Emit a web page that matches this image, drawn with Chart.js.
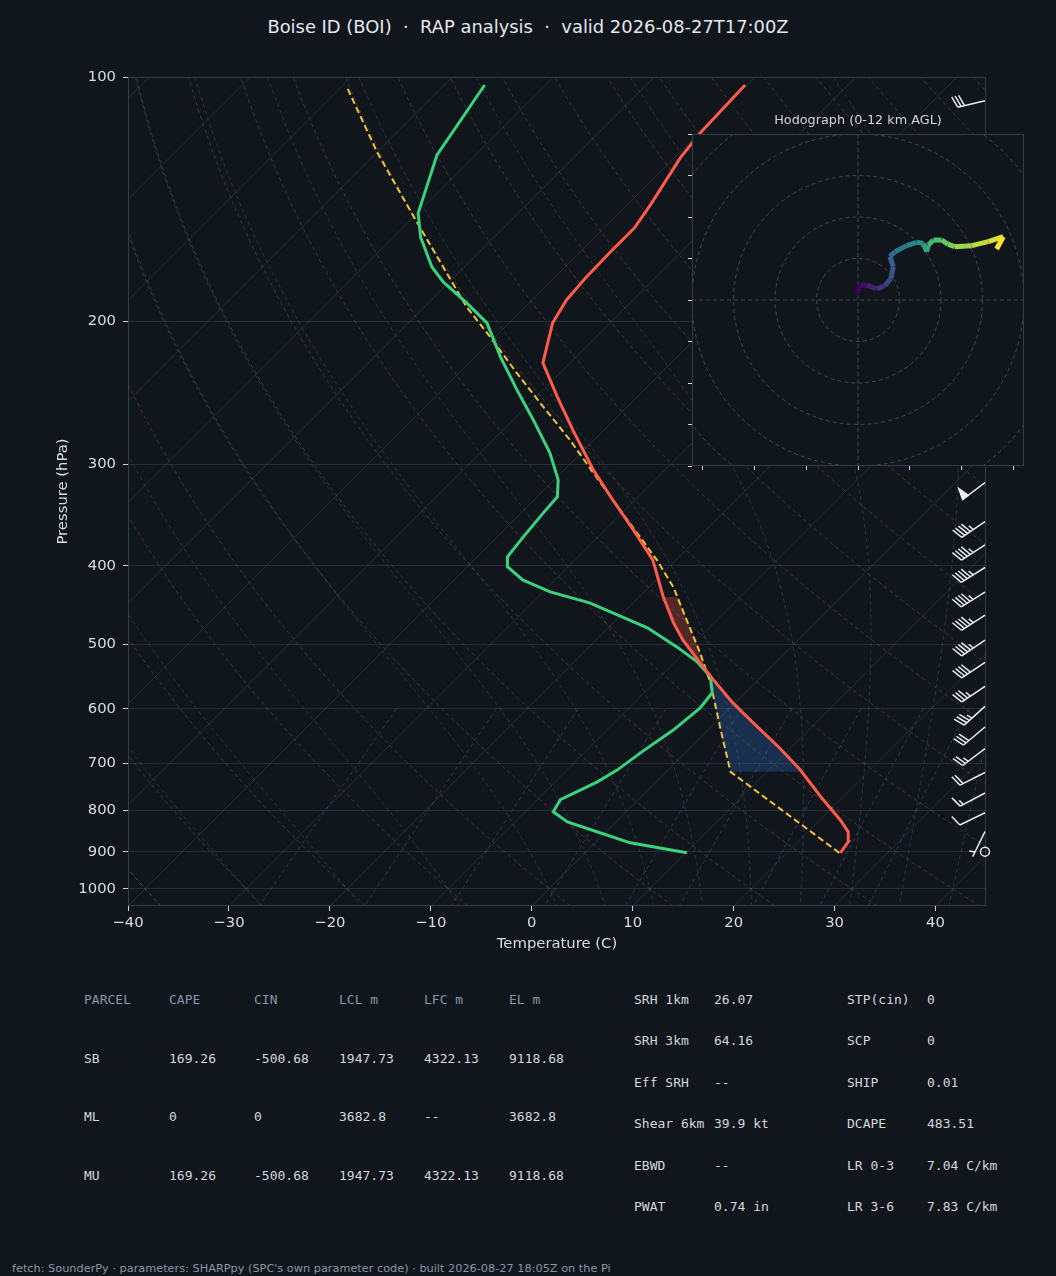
<!DOCTYPE html>
<html>
<head>
<meta charset="utf-8">
<title>Boise ID (BOI) skew-T</title>
<script src="https://cdn.jsdelivr.net/npm/chart.js@4.4.1/dist/chart.umd.min.js"></script>
<style>
  html, body { margin: 0; padding: 0; background: #11151c; }
  body { width: 1056px; height: 1276px; position: relative; overflow: hidden;
         font-family: "DejaVu Sans", sans-serif; }
  #title { position: absolute; left: 0; top: 16px; width: 1056px; text-align: center;
           color: #e4e7ec; font-size: 17.9px; white-space: pre; }
  #main { position: absolute; left: 0; top: 0; }
  #hodo { position: absolute; left: 676px; top: 110px; }
  #hodoTitle { position: absolute; left: 692px; width: 332px; top: 112px; text-align: center;
               color: #d2d6dc; font-size: 12.8px; }
  .cell { position: absolute; font-family: "DejaVu Sans Mono", monospace; font-size: 13px;
          line-height: 16px; white-space: pre; color: #d3d8de; }
  .head { color: #8796aa; }
  #foot { position: absolute; left: 12px; top: 1262px; font-size: 11.3px; color: #8a96a6; white-space: pre; }
</style>
</head>
<body>
<div id="title">Boise ID (BOI)  ·  RAP analysis  ·  valid 2026-08-27T17:00Z</div>
<canvas id="main" width="1056" height="956"></canvas>
<div id="hodoTitle">Hodograph (0-12 km AGL)</div>
<canvas id="hodo" width="360" height="372"></canvas>
<div id="table"></div>
<div id="foot">fetch: SounderPy · parameters: SHARPpy (SPC's own parameter code) · built 2026-08-27 18:05Z on the Pi</div>
<script>
// ---- sounding values (hPa, degC) ----
const TEMP_P = [903, 875.2, 850.7, 822.2, 770.1, 713.6, 670.7, 624.6, 590.2, 552.9, 526.9, 493.6, 470.4, 436.9,
                393.4, 361.3, 331.9, 304.8, 272.1, 247.8, 225, 200.9, 188.2, 176.8, 164.3, 153.5, 143.8, 133.9,
                125.8, 117.2, 102.3];
const TEMP_C = [25.3, 25.0, 24.0, 22.0, 17.8, 13.1, 8.9, 3.8, -0.2, -4.4, -7.4, -11.4, -14.0, -17.6,
                -22.3, -27.2, -32.2, -37.1, -43.1, -47.9, -52.7, -55.7, -56.6, -56.9, -57.0, -57.0, -57.7, -58.6,
                -59.4, -59.9, -60.2];
const DEW_P = [903, 877.7, 853.1, 827.1, 803.9, 776.7, 738.4, 713.6, 680.1, 637.1, 598.5, 573.4, 548.2, 525.3,
               503.5, 477, 444.4, 430.7, 416.4, 401.2, 390, 368.6, 344.3, 329, 313.5, 290.4, 264.5, 242.9,
               221.2, 200.9, 189.8, 178.8, 171.4, 157.4, 147.1, 124.7, 102.3];
const DEW_C = [10.1, 3.5, -0.5, -4.8, -7.2, -7.7, -5.8, -5.0, -4.4, -3.4, -2.95, -3.25, -5.0, -7.8,
               -11.3, -16.1, -24.3, -29.3, -33.2, -36.0, -37.0, -37.4, -37.8, -38.0, -39.6, -43.1, -48.0, -52.6,
               -57.5, -62.2, -66.2, -70.6, -73.2, -77.3, -79.9, -83.8, -86.0];
const PARCEL_P = [903, 717.7, 631.7, 557.6, 512.1, 466.4, 424.7, 393.4, 331.9, 307.4, 279.9, 254.9, 231.5,
                  209, 192, 151.3, 124, 103.2];
const PARCEL_C = [25.2, 6.4, 0.9, -4.4, -8.4, -13.0, -17.6, -21.9, -32.2, -36.8, -42.4, -48.3, -54.3,
                  -60.5, -65.8, -79.0, -89.9, -99.3];
const CIN_LAYER = [717.7, 557.6];
const CAPE_LAYER = [545, 437];

// wind barbs (hPa, kt, deg from)
const BARB_P   = [900, 850, 806, 762, 719, 672, 632, 596, 563, 526, 494, 460, 431, 402, 377, 353, 316, 107];
const BARB_SPD = [0, 5, 10, 15, 20, 25, 30, 35, 35, 40, 45, 45, 45, 45, 45, 45, 50, 30];
const BARB_DIR = [0, 206, 244, 242, 243, 233, 230, 228, 236, 236, 236, 237, 238, 238, 237, 236, 233, 257];

// hodograph u/v (kt), surface to 12 km
const HODO_U = [-0.6, 1.0, 4.2, 9.0, 13.0, 15.9, 17.0, 15.4, 17.8, 23.5, 28.3, 31.5, 33.1, 33.9, 36.3,
                40.3, 43.5, 46.7, 54.8, 62.8, 70.0, 66.8];
const HODO_V = [3.2, 7.2, 7.2, 5.3, 6.9, 10.5, 16.0, 20.9, 23.3, 26.2, 27.8, 27.3, 23.3, 26.5, 28.9,
                28.9, 26.8, 25.7, 26.2, 28.1, 30.5, 24.6];

// axis ticks and reference line sets
const P_TICKS = [100, 200, 300, 400, 500, 600, 700, 800, 900, 1000];
const ISOTHERMS = [-120, -110, -100, -90, -80, -70, -60, -50, -40, -30, -20, -10, 0, 10, 20, 30, 40];
const DRY_T0 = [-40, -30, -20, -10, 0, 10, 20, 30, 40, 50, 60, 70, 80, 90, 100, 110, 120, 130, 140, 150,
                160, 170, 180, 190, 200];
const MOIST_T0 = [-40, -30, -20, -10, 0, 5, 10, 15, 20, 25, 30, 35, 40, 45];
const MIX_W = [0.0004, 0.001, 0.002, 0.004, 0.007, 0.01, 0.016, 0.024, 0.032];

// table text
const TABLE_HEAD = ['PARCEL', 'CAPE', 'CIN', 'LCL m', 'LFC m', 'EL m'];
const TABLE_ROWS = [
  ['SB', '169.26', '-500.68', '1947.73', '4322.13', '9118.68'],
  ['ML', '0', '0', '3682.8', '--', '3682.8'],
  ['MU', '169.26', '-500.68', '1947.73', '4322.13', '9118.68']
];
const PARAM_A = [['SRH 1km', '26.07'], ['SRH 3km', '64.16'], ['Eff SRH', '--'],
                 ['Shear 6km', '39.9 kt'], ['EBWD', '--'], ['PWAT', '0.74 in']];
const PARAM_B = [['STP(cin)', '0'], ['SCP', '0'], ['SHIP', '0.01'],
                 ['DCAPE', '483.51'], ['LR 0-3', '7.04 C/km'], ['LR 3-6', '7.83 C/km']];

// ---- layout ----
const PLOT = { left: 128, top: 77, right: 986, bottom: 906 };
const PAD_LEFT = 50;
const CANVAS_H = 956;
const P_BOT = 1050, P_TOP = 100, T_MIN = -40, T_MAX = 45;
// 45 degree skew in pixel space
const SKEW = ((PLOT.bottom - PLOT.top) / Math.log10(P_BOT / P_TOP)) / ((PLOT.right - PLOT.left) / (T_MAX - T_MIN));
const skewX = (t, p) => t + SKEW * Math.log10(P_BOT / p);

const BG = '#11151c';
const TXT = '#d9dde3';
const GRID = 'rgba(150,165,185,0.17)';
const FRAME = '#333d4a';

Chart.defaults.font.family = '"DejaVu Sans", sans-serif';

// thermodynamics for the background lines
function satMix(tc, p) {
  const es = 6.112 * Math.exp(17.67 * tc / (tc + 243.5));
  return 0.622 * es / (p - es);
}
function moistGrad(tk, p) {
  const rs = satMix(tk - 273.15, p);
  const Rd = 287.04, Cp = 1005.7, Lv = 2.501e6, eps = 0.622;
  return (1 / p) * (Rd * tk + Lv * rs) / (Cp + Lv * Lv * rs * eps / (Rd * tk * tk));
}
function moistCurve(t0) {
  const pts = [];
  for (const dir of [-1, 1]) {
    let t = t0 + 273.15, p = 1000;
    const seg = [[p, t]];
    const stop = dir < 0 ? P_TOP : P_BOT;
    while ((dir < 0 && p > stop) || (dir > 0 && p < stop)) {
      const dp = 5 * dir;
      const k1 = moistGrad(t, p), k2 = moistGrad(t + k1 * dp, p + dp);
      t += 0.5 * (k1 + k2) * dp; p += dp;
      seg.push([p, t]);
    }
    if (dir < 0) pts.push(...seg.reverse()); else pts.push(...seg.slice(1));
  }
  return pts.filter((d, i) => i % 3 === 0 || i === pts.length - 1)
            .map(([p, t]) => ({ x: skewX(t - 273.15, p), y: p }));
}
const LOG_P = [];
for (let i = 0; i <= 40; i++) LOG_P.push(P_BOT * Math.pow(P_TOP / P_BOT, i / 40));

function refLine(data, color, dash) {
  return { data, showLine: true, pointRadius: 0, borderWidth: 1, borderColor: color,
           borderDash: dash, tension: 0, order: 10 };
}
const refSets = [];
ISOTHERMS.forEach(t => refSets.push(refLine([P_BOT, P_TOP].map(p => ({ x: skewX(t, p), y: p })), GRID, [])));
DRY_T0.forEach(t0 => refSets.push(refLine(LOG_P.map(p => {
  const t = (t0 + 273.15) * Math.pow(p / 1000, 0.2857) - 273.15;
  return { x: skewX(t, p), y: p };
}), 'rgba(190,135,75,0.30)', [4, 3])));
MOIST_T0.forEach(t0 => refSets.push(refLine(moistCurve(t0), 'rgba(95,145,165,0.28)', [4, 3])));
MIX_W.forEach(w => {
  const pts = [];
  for (let p = 600; p <= P_BOT; p += 25) {
    const e = w * p / (0.622 + w);
    const l = Math.log(e / 6.112);
    const td = 243.5 * l / (17.67 - l);
    pts.push({ x: skewX(td, p), y: p });
  }
  refSets.push(refLine(pts, 'rgba(85,130,185,0.35)', [4, 3]));
});

function profile(P, T) { return P.map((p, i) => ({ x: skewX(T[i], p), y: p })); }

function interpT(P, T, p) {
  for (let i = 0; i < P.length - 1; i++) {
    if (p <= P[i] && p >= P[i + 1]) {
      const f = Math.log(P[i] / p) / Math.log(P[i] / P[i + 1]);
      return T[i] + f * (T[i + 1] - T[i]);
    }
  }
  return T[T.length - 1];
}
function slice(P, T, pHi, pLo) {
  const out = [[pHi, interpT(P, T, pHi)]];
  P.forEach((p, i) => { if (p < pHi && p > pLo) out.push([p, T[i]]); });
  out.push([pLo, interpT(P, T, pLo)]);
  return out;
}
function layerPolygon(layer) {
  const a = slice(PARCEL_P, PARCEL_C, layer[0], layer[1]);
  const b = slice(TEMP_P, TEMP_C, layer[0], layer[1]).reverse();
  return a.concat(b);
}

function drawBarb(ctx, x, y, spd, dir, L) {
  ctx.save();
  ctx.strokeStyle = '#e8ebef'; ctx.fillStyle = '#e8ebef'; ctx.lineWidth = 1.5;
  ctx.lineJoin = 'miter';
  if (spd < 2.5) {
    ctx.beginPath(); ctx.arc(x, y, 0.16 * L, 0, Math.PI * 2); ctx.stroke(); ctx.restore(); return;
  }
  const r = dir * Math.PI / 180;
  const d = { x: Math.sin(r), y: -Math.cos(r) };
  const n = { x: -d.y, y: d.x };
  const h = 0.4 * L, w = 0.25 * L, sp = 0.125 * L;
  const P = s => [x + d.x * s, y + d.y * s];
  const Q = (s, hh) => [x + d.x * s + n.x * hh, y + d.y * s + n.y * hh];
  let v = Math.round(spd / 5) * 5;
  const flags = Math.floor(v / 50); v -= flags * 50;
  const full = Math.floor(v / 10); v -= full * 10;
  const half = v >= 5;
  ctx.beginPath(); ctx.moveTo(x, y); ctx.lineTo(...P(L)); ctx.stroke();
  let off = L;
  for (let i = 0; i < flags; i++) {
    ctx.beginPath(); ctx.moveTo(...P(off)); ctx.lineTo(...Q(off - w / 2, h)); ctx.lineTo(...P(off - w));
    ctx.closePath(); ctx.fill(); ctx.stroke();
    off -= w + sp;
  }
  for (let i = 0; i < full; i++) {
    ctx.beginPath(); ctx.moveTo(...P(off)); ctx.lineTo(...Q(off + w / 2, h)); ctx.stroke();
    off -= sp;
  }
  if (half) {
    if (off === L) off -= 1.5 * sp;
    ctx.beginPath(); ctx.moveTo(...P(off)); ctx.lineTo(...Q(off + w / 4, h / 2)); ctx.stroke();
  }
  ctx.restore();
}

const skewPlugin = {
  id: 'skewExtras',
  beforeDatasetsDraw(chart) {
    const { ctx, chartArea: a, scales: { x, y } } = chart;
    ctx.save();
    ctx.beginPath(); ctx.rect(a.left, a.top, a.right - a.left, a.bottom - a.top); ctx.clip();
    [[CIN_LAYER, 'rgba(40,90,160,0.38)'], [CAPE_LAYER, 'rgba(220,80,60,0.32)']].forEach(([layer, col]) => {
      const poly = layerPolygon(layer);
      ctx.beginPath();
      poly.forEach(([p, t], i) => {
        const px = x.getPixelForValue(skewX(t, p)), py = y.getPixelForValue(p);
        if (i === 0) ctx.moveTo(px, py); else ctx.lineTo(px, py);
      });
      ctx.closePath(); ctx.fillStyle = col; ctx.fill();
    });
    ctx.restore();
  },
  afterDatasetsDraw(chart) {
    const { ctx, chartArea: a, scales: { y } } = chart;
    ctx.save();
    ctx.strokeStyle = FRAME; ctx.lineWidth = 1;
    ctx.strokeRect(a.left + 0.5, a.top + 0.5, a.right - a.left - 1, a.bottom - a.top - 1);
    ctx.restore();
    BARB_P.forEach((p, i) => drawBarb(ctx, a.right - 1, y.getPixelForValue(p), BARB_SPD[i], BARB_DIR[i], 28));
  }
};

const tickFont = { family: '"DejaVu Sans", sans-serif', size: 14.8 };
new Chart(document.getElementById('main'), {
  type: 'scatter',
  data: {
    datasets: [
      ...refSets,
      { data: profile(PARCEL_P, PARCEL_C), showLine: true, pointRadius: 0, borderWidth: 2,
        borderColor: '#f2c33c', borderDash: [6.5, 3.5], order: 3 },
      { data: profile(DEW_P, DEW_C), showLine: true, pointRadius: 0, borderWidth: 3,
        borderColor: '#3ad27c', order: 2 },
      { data: profile(TEMP_P, TEMP_C), showLine: true, pointRadius: 0, borderWidth: 3,
        borderColor: '#ff5b4c', order: 1 }
    ]
  },
  options: {
    responsive: false, animation: false, events: [],
    layout: { padding: { left: PAD_LEFT, top: PLOT.top, right: 1056 - PLOT.right, bottom: 0 } },
    plugins: { legend: { display: false }, tooltip: { enabled: false } },
    scales: {
      x: {
        type: 'linear', min: T_MIN, max: T_MAX,
        ticks: { stepSize: 10, includeBounds: false, color: TXT, font: tickFont, padding: 3, maxRotation: 0,
                 callback: v => v < 0 ? '\u2212' + Math.abs(v) : String(v) },
        grid: { drawOnChartArea: false, drawTicks: true, tickLength: 5, tickColor: '#cfd3d9' },
        border: { display: false },
        title: { display: true, text: 'Temperature (C)', color: TXT, font: tickFont, padding: { top: 2, bottom: 3 } },
        afterFit: s => { s.height = CANVAS_H - PLOT.bottom; }
      },
      y: {
        type: 'logarithmic', min: P_TOP, max: P_BOT, reverse: true,
        afterBuildTicks: s => { s.ticks = P_TICKS.map(v => ({ value: v })); },
        ticks: { color: TXT, font: tickFont, padding: 7, autoSkip: false, callback: v => String(v) },
        grid: { color: GRID, drawTicks: true, tickLength: 5, tickColor: '#cfd3d9' },
        border: { display: false },
        title: { display: true, text: 'Pressure (hPa)', color: TXT, font: tickFont, padding: { top: 4, bottom: 4 } },
        afterFit: s => { s.width = PLOT.left - PAD_LEFT; }
      }
    }
  },
  plugins: [skewPlugin]
});

// ---- hodograph inset ----
const VIRIDIS = ['#440154', '#3b528b', '#21918c', '#5ec962', '#fde725'];
function viridis(f) {
  f = Math.max(0, Math.min(1, f));
  const s = f * (VIRIDIS.length - 1), i = Math.min(Math.floor(s), VIRIDIS.length - 2), k = s - i;
  const a = VIRIDIS[i], b = VIRIDIS[i + 1];
  const c = j => Math.round(parseInt(a.substr(j, 2), 16) * (1 - k) + parseInt(b.substr(j, 2), 16) * k);
  return `rgb(${c(1)},${c(3)},${c(5)})`;
}
const HODO_RINGS = [20, 40, 60, 80, 100, 120];
const hodoPlugin = {
  id: 'hodoRings',
  beforeDatasetsDraw(chart) {
    const { ctx, chartArea: a, scales: { x, y } } = chart;
    ctx.save();
    ctx.fillStyle = BG; ctx.fillRect(a.left, a.top, a.right - a.left, a.bottom - a.top);
    ctx.beginPath(); ctx.rect(a.left, a.top, a.right - a.left, a.bottom - a.top); ctx.clip();
    ctx.strokeStyle = 'rgba(150,165,185,0.35)'; ctx.lineWidth = 1; ctx.setLineDash([4, 3]);
    const cx = x.getPixelForValue(0), cy = y.getPixelForValue(0);
    HODO_RINGS.forEach(r => {
      ctx.beginPath(); ctx.arc(cx, cy, x.getPixelForValue(r) - cx, 0, Math.PI * 2); ctx.stroke();
    });
    ctx.beginPath(); ctx.moveTo(a.left, cy); ctx.lineTo(a.right, cy);
    ctx.moveTo(cx, a.top); ctx.lineTo(cx, a.bottom); ctx.stroke();
    ctx.restore();
  },
  afterDatasetsDraw(chart) {
    const { ctx, chartArea: a } = chart;
    ctx.save(); ctx.strokeStyle = FRAME; ctx.lineWidth = 1;
    ctx.strokeRect(a.left + 0.5, a.top + 0.5, a.right - a.left - 1, a.bottom - a.top - 1);
    ctx.restore();
  }
};
const nH = HODO_U.length;
new Chart(document.getElementById('hodo'), {
  type: 'scatter',
  data: { datasets: [{
    data: HODO_U.map((u, i) => ({ x: u, y: HODO_V[i] })), showLine: true, pointRadius: 0, borderWidth: 5,
    borderCapStyle: 'butt', borderColor: VIRIDIS[0],
    segment: { borderColor: c => viridis(c.p0DataIndex / (nH - 2)) }
  }] },
  options: {
    responsive: false, animation: false, events: [],
    layout: { padding: { left: 0, top: 24, right: 12, bottom: 0 } },
    plugins: { legend: { display: false }, tooltip: { enabled: false } },
    scales: {
      x: { min: -80, max: 80,
           afterBuildTicks: s => { s.ticks = [-75, -50, -25, 0, 25, 50, 75].map(v => ({ value: v })); },
           ticks: { display: false },
           grid: { drawOnChartArea: false, drawTicks: true, tickLength: 4, tickColor: '#d0d4da' },
           border: { display: false }, afterFit: s => { s.height = 16; } },
      y: { min: -80, max: 80,
           afterBuildTicks: s => { s.ticks = [-80, -60, -40, -20, 0, 20, 40, 60, 80].map(v => ({ value: v })); },
           ticks: { display: false },
           grid: { drawOnChartArea: false, drawTicks: true, tickLength: 4, tickColor: '#d0d4da' },
           border: { display: false }, afterFit: s => { s.width = 16; } }
    }
  },
  plugins: [hodoPlugin]
});

// ---- parameter table ----
const table = document.getElementById('table');
function cell(text, x, yc, cls) {
  const d = document.createElement('div');
  d.className = 'cell' + (cls ? ' ' + cls : '');
  d.textContent = text; d.style.left = x + 'px'; d.style.top = (yc - 8) + 'px';
  table.appendChild(d);
}
const ROW_Y = [1000, 1058.5, 1117, 1175.5];
TABLE_HEAD.forEach((t, j) => cell(t, 84 + 85 * j, ROW_Y[0], 'head'));
TABLE_ROWS.forEach((row, i) => row.forEach((t, j) => cell(t, 84 + 85 * j, ROW_Y[i + 1])));
PARAM_A.forEach(([k, v], i) => { cell(k, 634, 1000 + 41.4 * i); cell(v, 714, 1000 + 41.4 * i); });
PARAM_B.forEach(([k, v], i) => { cell(k, 847, 1000 + 41.4 * i); cell(v, 927, 1000 + 41.4 * i); });
</script>
</body>
</html>
